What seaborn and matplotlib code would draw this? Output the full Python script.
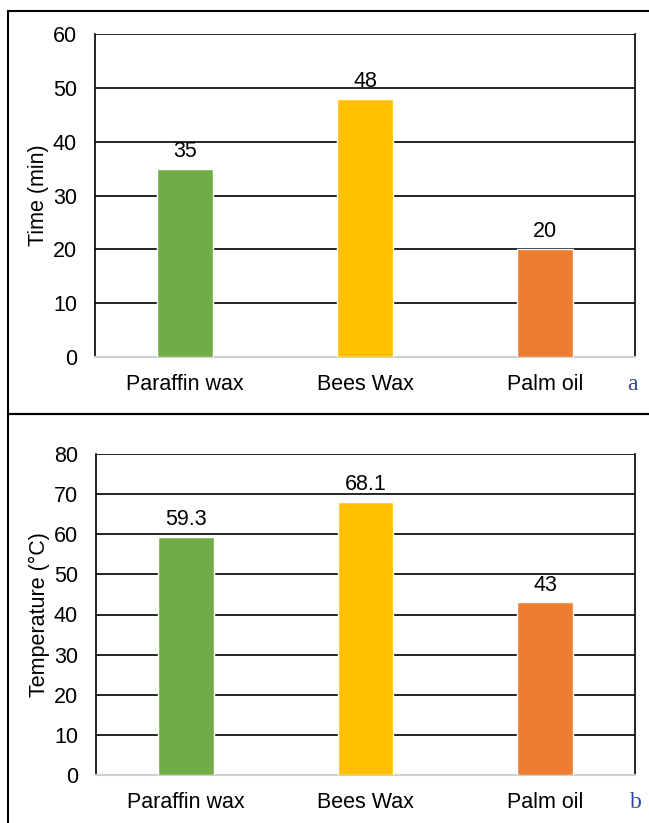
import matplotlib
matplotlib.use("Agg")
import matplotlib.pyplot as plt
import seaborn as sns
import pandas as pd
from matplotlib.patches import Rectangle

materials = ["Paraffin wax", "Bees Wax", "Palm oil"]
time_min = [35, 48, 20]
temperature_c = [59.3, 68.1, 43]
time_labels = ["35", "48", "20"]
temp_labels = ["59.3", "68.1", "43"]
bar_colors = ["#70AD47", "#FFC000", "#ED7D31"]

sns.set_theme(style="white")
plt.rcParams["font.family"] = ["Liberation Sans", "DejaVu Sans"]

W, H = 649, 823
FS = 15.5
fig = plt.figure(figsize=(W / 100, H / 100), dpi=100)


def px_axes(left, top, right, bottom):
    return fig.add_axes([left / W, 1 - bottom / H, (right - left) / W, (bottom - top) / H])


def panel(ax, values, labels, ymax, step, ylabel):
    df = pd.DataFrame({"material": materials, "value": values})
    sns.barplot(data=df, x="material", y="value", hue="material",
                palette=bar_colors, width=0.31, ax=ax, legend=False,
                saturation=1, zorder=3)
    ax.set_ylim(0, ymax)
    ax.set_xlim(-0.5, 2.5)
    ax.set_yticks(range(0, ymax + 1, step))
    ax.yaxis.grid(True, color="black", linewidth=1.2, zorder=0)
    ax.set_axisbelow(True)
    for s in ["left", "right"]:
        ax.spines[s].set_visible(True)
        ax.spines[s].set_color("black")
        ax.spines[s].set_linewidth(1.2)
    ax.spines["top"].set_visible(False)
    ax.spines["bottom"].set_color("#d0d0d0")
    ax.spines["bottom"].set_linewidth(1.5)
    ax.tick_params(axis="y", labelsize=FS, length=0, pad=13, colors="black")
    ax.tick_params(axis="x", labelsize=FS, length=0, pad=12, colors="black")
    ax.set_xlabel("")
    ax.set_ylabel(ylabel, fontsize=FS, color="black", labelpad=3)
    for c, lbl in zip(ax.containers, [[l] for l in labels]):
        ax.bar_label(c, labels=lbl, padding=5, fontsize=FS, color="black")


# panel a
ax1 = px_axes(95, 34, 635, 357)
panel(ax1, time_min, time_labels, 60, 10, "Time (min)")

# panel b
ax2 = px_axes(96, 454, 635, 775)
panel(ax2, temperature_c, temp_labels, 80, 10, "Temperature (°C)")

# frames around each panel
for top, bottom in [(11, 414), (414, 830)]:
    fig.patches.append(Rectangle((8 / W, 1 - bottom / H), (W + 10 - 8) / W,
                                 (bottom - top) / H, transform=fig.transFigure,
                                 fill=False, edgecolor="black", linewidth=1.5))

fig.text(632 / W, 1 - 384 / H, "a", fontsize=17, color="#2E4A9A",
         family=["Liberation Serif"], ha="center", va="center")
fig.text(636 / W, 1 - 803 / H, "b", fontsize=17, color="#2E4A9A",
         family=["Liberation Serif"], ha="center", va="center")

fig.savefig("out.png", dpi=100)
